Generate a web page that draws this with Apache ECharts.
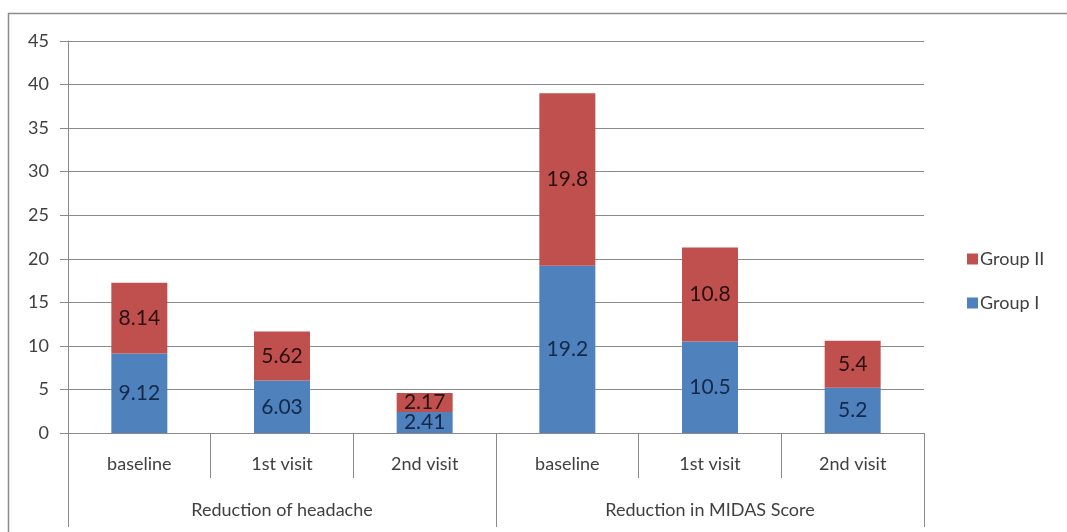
<!DOCTYPE html>
<html>
<head>
<meta charset="utf-8">
<script src="https://cdn.jsdelivr.net/npm/echarts@6/dist/echarts.min.js"></script>
<style>
  html, body { margin: 0; padding: 0; background: #fff; }
  #chart { width: 1067px; height: 532px; }
</style>
</head>
<body>
<div id="chart"></div>
<script>
// Visit categories and the study measure each belongs to
const visits = ['baseline', '1st visit', '2nd visit', 'baseline', '1st visit', '2nd visit'];
const measures = ['Reduction of headache', 'Reduction in MIDAS Score'];

// Stacked values per visit
const groupI = [9.12, 6.03, 2.41, 19.2, 10.5, 5.2];
const groupII = [8.14, 5.62, 2.17, 19.8, 10.8, 5.4];

// Value-axis range
const yMin = 0, yMax = 45, yStep = 5;

const FONT = 'Lato, "Open Sans", sans-serif';
const GRID_GRAY = '#8a8a8a';
const TEXT = '#404040';

const chart = echarts.init(document.getElementById('chart'), null, { renderer: 'canvas' });

chart.setOption({
  animation: false,
  backgroundColor: '#ffffff',
  textStyle: { fontFamily: FONT },
  graphic: [{
    type: 'rect',
    shape: { x: 8.5, y: 13.5, width: 1200, height: 700 },
    style: { fill: 'none', stroke: '#8c8c8c', lineWidth: 1.5 },
    silent: true,
    z: -10
  }],
  legend: {
    orient: 'vertical',
    left: 962,
    top: 244,
    itemWidth: 11,
    itemHeight: 11,
    itemGap: 24,
    icon: 'rect',
    data: ['Group II', 'Group I'],
    textStyle: { fontFamily: FONT, fontSize: 18, lineHeight: 20, color: TEXT, padding: [0, 0, 0, -3] }
  },
  grid: { left: 68, top: 41, width: 856, height: 392 },
  xAxis: [{
    type: 'category',
    data: visits,
    position: 'bottom',
    axisLine: { show: true, lineStyle: { color: GRID_GRAY, width: 1 } },
    axisTick: { show: true, length: 45, lineStyle: { color: GRID_GRAY, width: 1 } },
    axisLabel: { margin: 22, fontFamily: FONT, fontSize: 18, color: TEXT }
  }, {
    type: 'category',
    data: measures,
    position: 'bottom',
    axisLine: { show: false },
    axisTick: { show: true, length: 94, lineStyle: { color: GRID_GRAY, width: 1 } },
    axisLabel: { margin: 68, fontFamily: FONT, fontSize: 18, color: TEXT }
  }],
  yAxis: {
    type: 'value',
    min: yMin,
    max: yMax,
    interval: yStep,
    axisLine: { show: true, lineStyle: { color: GRID_GRAY, width: 1 } },
    axisTick: { show: true, length: 8, lineStyle: { color: GRID_GRAY } },
    axisLabel: { margin: 19, fontFamily: FONT, fontSize: 18, color: TEXT },
    splitLine: { show: true, lineStyle: { color: GRID_GRAY, width: 1 } }
  },
  series: [{
    name: 'Group I',
    type: 'bar',
    stack: 'total',
    xAxisIndex: 0,
    barWidth: 56,
    data: groupI,
    itemStyle: { color: '#4f81bd' },
    label: {
      show: true,
      position: 'inside',
      fontFamily: FONT,
      fontSize: 21,
      color: '#14284a'
    }
  }, {
    name: 'Group II',
    type: 'bar',
    stack: 'total',
    xAxisIndex: 0,
    barWidth: 56,
    data: groupII,
    itemStyle: { color: '#c0504d' },
    label: {
      show: true,
      position: 'inside',
      fontFamily: FONT,
      fontSize: 21,
      color: '#2a1010'
    }
  }]
});
</script>
</body>
</html>
